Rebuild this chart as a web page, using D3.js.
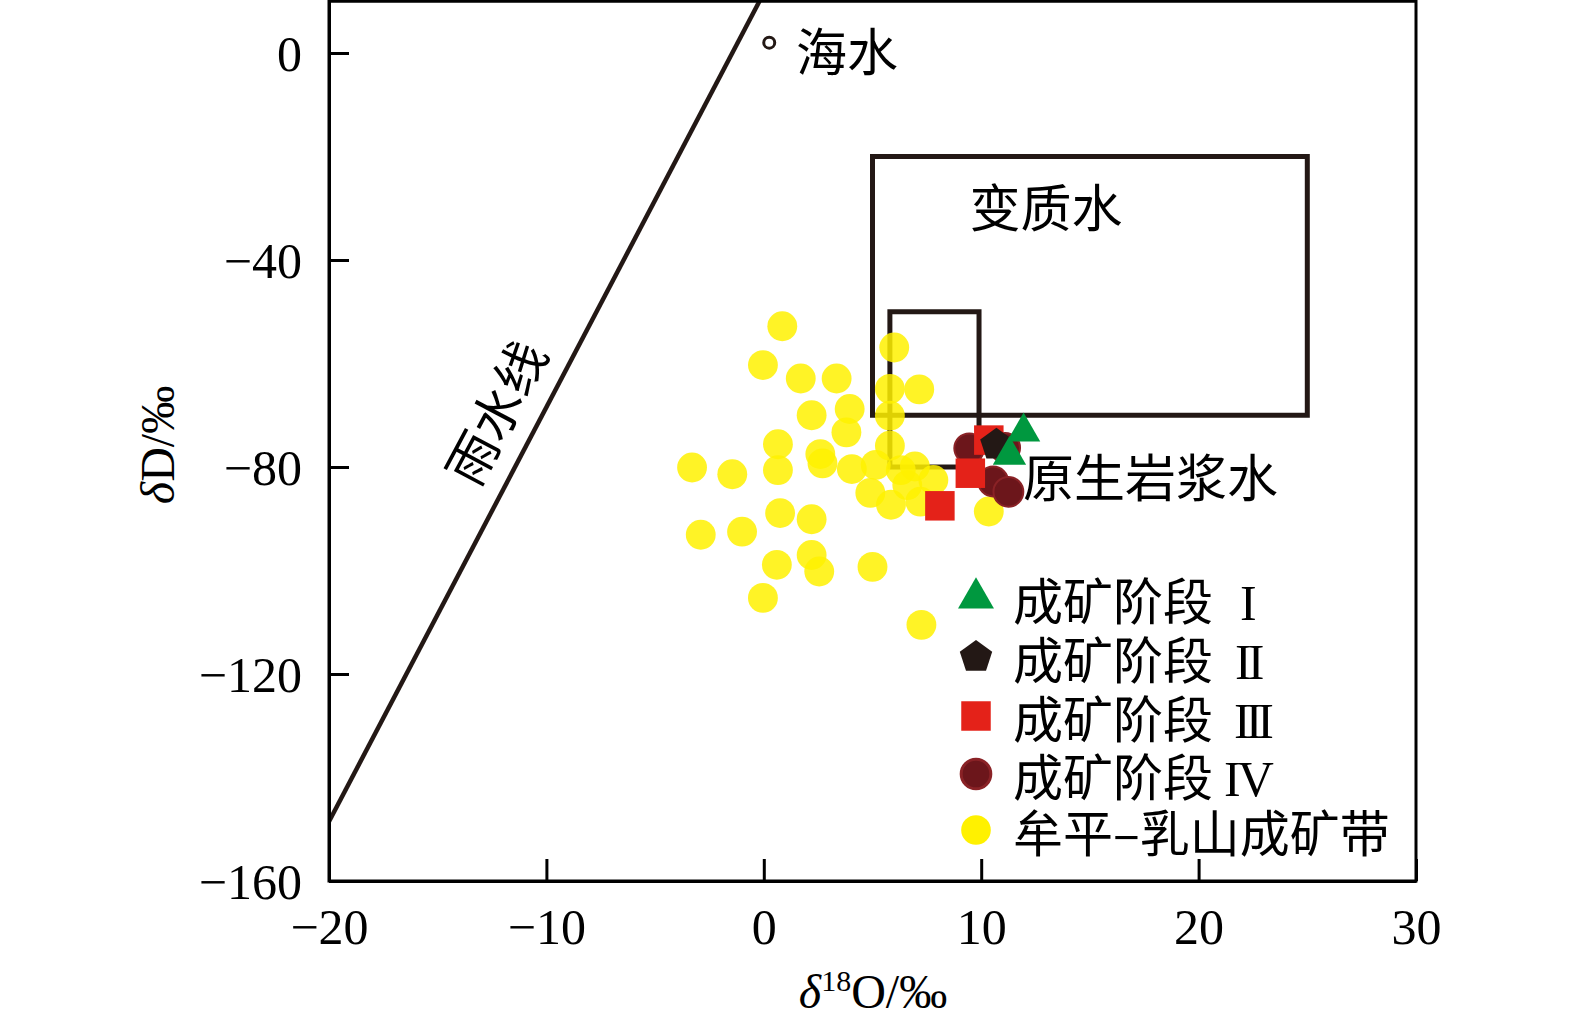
<!DOCTYPE html>
<html>
<head>
<meta charset="utf-8">
<script src="https://cdn.jsdelivr.net/npm/d3@7"></script>
<style>
  body { margin: 0; background: #fff; }
  text { fill: #000; }
</style>
</head>
<body>
<div class="svg"></div>
<script>
// δ18O, δD pairs
const stage1 = [[11.95, -73.2], [11.3, -77.7]];
const stage2 = [[10.7, -75.7]];
const stage3 = [[10.35, -74.8], [9.5, -81.2], [8.1, -87.5]];
const stage4 = [[9.45, -76.4], [11.1, -76.3], [10.55, -82.8], [11.25, -84.8]];
const muping = [
  [0.85, -52.8], [-0.04, -60.3], [1.7, -62.9], [3.35, -62.9], [6.0, -56.9],
  [5.8, -64.9], [7.15, -65.0], [5.8, -70.1], [3.95, -68.8], [2.2, -70.0],
  [3.8, -73.3], [0.65, -75.6], [2.6, -77.5], [2.7, -79.3], [5.8, -75.9],
  [-3.3, -80.1], [-1.45, -81.4], [0.65, -80.6], [4.05, -80.4], [5.15, -79.6],
  [6.3, -80.6], [6.95, -79.9], [6.6, -83.5], [7.8, -82.5], [4.9, -85.0],
  [5.85, -87.3], [7.2, -86.7], [10.35, -88.6], [0.75, -88.9], [2.2, -90.1],
  [-2.9, -93.1], [-1.0, -92.5], [0.6, -98.9], [2.2, -97.0], [2.55, -100.2],
  [5.0, -99.3], [-0.04, -105.3], [7.25, -110.5]
];
const seawater = [0.25, 2];
const mwlLine = [[-20, -148.5], [-0.2, 10]];
const metamorphicBox = [5, 25, -20, -70];   // x0, x1, y0, y1
const magmaticBox = [5.8, 9.9, -50, -80];

const xTicks = [-20, -10, 0, 10, 20, 30];
const yTicks = [0, -40, -80, -120, -160];
const legendNames = ["成矿阶段", "成矿阶段", "成矿阶段", "成矿阶段", "牟平–乳山成矿带"];
const legendRoman = ["I", "II", "III", "IV", ""];

const w = 1575, h = 1027;
const cjk = "'Noto Sans CJK SC', 'Noto Sans', sans-serif";
const serif = "'Liberation Serif', 'DejaVu Serif', serif";
const lineCol = "#231815";

const svg = d3.select(".svg").append("svg").attr("width", w).attr("height", h);

const xScale = d3.scaleLinear().domain([-20, 30]).range([329, 1416]);
const yScale = d3.scaleLinear().domain([-160, 10]).range([881, 1.25]);

// clip for the plot frame
svg.append("clipPath").attr("id", "plotclip").append("rect")
  .attr("x", xScale(-20)).attr("y", yScale(10))
  .attr("width", xScale(30) - xScale(-20)).attr("height", yScale(-160) - yScale(10));

const plot = svg.append("g").attr("clip-path", "url(#plotclip)");

// meteoric water line
plot.append("path")
  .datum(mwlLine)
  .attr("d", d3.line().x(d => xScale(d[0])).y(d => yScale(d[1])))
  .attr("stroke", lineCol).attr("stroke-width", 4.5).attr("fill", "none");

// water boxes
let drawBox = (b) => {
  plot.append("rect")
    .attr("x", xScale(b[0])).attr("y", yScale(b[2]))
    .attr("width", xScale(b[1]) - xScale(b[0]))
    .attr("height", yScale(b[3]) - yScale(b[2]))
    .attr("fill", "none").attr("stroke", lineCol).attr("stroke-width", 5);
};
drawBox(metamorphicBox);
drawBox(magmaticBox);

// seawater
plot.append("circle")
  .attr("cx", xScale(seawater[0])).attr("cy", yScale(seawater[1])).attr("r", 5.5)
  .attr("fill", "#fff").attr("stroke", lineCol).attr("stroke-width", 3);

// pentagon symbol
const symbolPentagon = {
  draw(ctx, size) {
    const r = Math.sqrt(size / 2.3776);
    for (let i = 0; i < 5; i++) {
      const a = -Math.PI / 2 + i * 2 * Math.PI / 5;
      if (i === 0) ctx.moveTo(r * Math.cos(a), r * Math.sin(a));
      else ctx.lineTo(r * Math.cos(a), r * Math.sin(a));
    }
    ctx.closePath();
  }
};

const series = [
  { data: stage1, type: d3.symbolTriangle, size: 480, fill: "#00983f", stroke: "none" },
  { data: stage2, type: symbolPentagon, size: 690, fill: "#231815", stroke: "none" },
  { data: stage3, type: d3.symbolSquare, size: 870, fill: "#e42219", stroke: "none" },
  { data: stage4, type: d3.symbolCircle, size: 700, fill: "#6c161b", stroke: "#8a2226" },
  { data: muping, type: d3.symbolCircle, size: 700, fill: "#fff100", stroke: "none", opacity: 0.85 }
];

// draw order: yellow first, then IV, III, II, I
[4, 3, 2, 1, 0].forEach(i => {
  const s = series[i];
  plot.selectAll(".s" + i)
    .data(s.data)
    .enter()
    .append("path")
    .attr("class", "s" + i)
    .attr("transform", d => "translate(" + xScale(d[0]) + "," + yScale(d[1]) + ")")
    .attr("d", d3.symbol().type(s.type).size(s.size))
    .attr("fill", s.fill)
    .attr("fill-opacity", s.opacity || 1)
    .attr("stroke", s.stroke)
    .attr("stroke-width", 2);
});

// frame
svg.append("rect")
  .attr("x", xScale(-20)).attr("y", yScale(10))
  .attr("width", xScale(30) - xScale(-20)).attr("height", yScale(-160) - yScale(10))
  .attr("fill", "none").attr("stroke", "#000").attr("stroke-width", 3);

// axes
const xAxis = d3.axisBottom(xScale).tickValues(xTicks).tickSizeInner(-22).tickSizeOuter(0).tickPadding(27);
const gx = svg.append("g").attr("transform", "translate(0," + yScale(-160) + ")").call(xAxis);
gx.select(".domain").attr("stroke-width", 3);
gx.selectAll(".tick line").attr("stroke-width", 3);
gx.selectAll(".tick text").attr("font-family", serif).attr("font-size", 50).attr("fill", "#000");

const yAxis = d3.axisLeft(yScale).tickValues(yTicks).tickSizeInner(-20).tickSizeOuter(0).tickPadding(27);
const gy = svg.append("g").attr("transform", "translate(" + xScale(-20) + ",0)").call(yAxis);
gy.select(".domain").attr("stroke-width", 3);
gy.selectAll(".tick line").attr("stroke-width", 3);
gy.selectAll(".tick text").attr("font-family", serif).attr("font-size", 50).attr("fill", "#000").attr("dy", "0.34em");

// axis titles
const xt = svg.append("text").attr("x", 873).attr("y", 1008)
  .attr("text-anchor", "middle").attr("font-family", serif).attr("font-size", 48);
xt.append("tspan").text("δ").attr("font-style", "italic");
xt.append("tspan").text("18").attr("font-size", 30).attr("dy", -17);
xt.append("tspan").text("O/‰").attr("dy", 17);

const yt = svg.append("text").attr("transform", "translate(174,445) rotate(-90)")
  .attr("text-anchor", "middle").attr("font-family", serif).attr("font-size", 48);
yt.append("tspan").text("δ").attr("font-style", "italic");
yt.append("tspan").text("D/‰");

// region labels
const labels = [
  { t: "海水", x: 796, y: 71, a: "start", r: 0 },
  { t: "变质水", x: 1046, y: 227, a: "middle", r: 0 },
  { t: "原生岩浆水", x: 1023, y: 497, a: "start", r: 0 },
  { t: "雨水线", x: 497, y: 413, a: "middle", r: -62 }
];
labels.forEach(l => {
  svg.append("text")
    .attr("transform", "translate(" + l.x + "," + l.y + ") rotate(" + l.r + ")")
    .attr("dy", l.r ? "0.36em" : 0)
    .attr("text-anchor", l.a)
    .attr("font-family", cjk).attr("font-size", 51)
    .text(l.t);
});

// legend
const legend = svg.append("g").attr("id", "legend");
const legY = [598, 657, 716, 774, 830];
const romanX = [1240, 1235, 1234, 1224];
const romanSp = [0, -4, -5, -3];
series.forEach((s, i) => {
  legend.append("path")
    .attr("transform", "translate(976," + legY[i] + ")")
    .attr("d", d3.symbol().type(s.type).size(i === 0 ? 560 : (i === 2 ? 870 : 690)))
    .attr("fill", s.fill)
    .attr("stroke", s.stroke)
    .attr("stroke-width", 3);
  const t = legend.append("text")
    .attr("x", 1013).attr("y", legY[i] + 22)
    .attr("font-family", cjk).attr("font-size", 50);
  t.append("tspan").text(legendNames[i]);
  if (legendRoman[i]) {
    t.append("tspan").text(legendRoman[i])
      .attr("x", romanX[i])
      .attr("letter-spacing", romanSp[i])
      .attr("font-family", serif).attr("font-size", 50);
  }
});
</script>
</body>
</html>
